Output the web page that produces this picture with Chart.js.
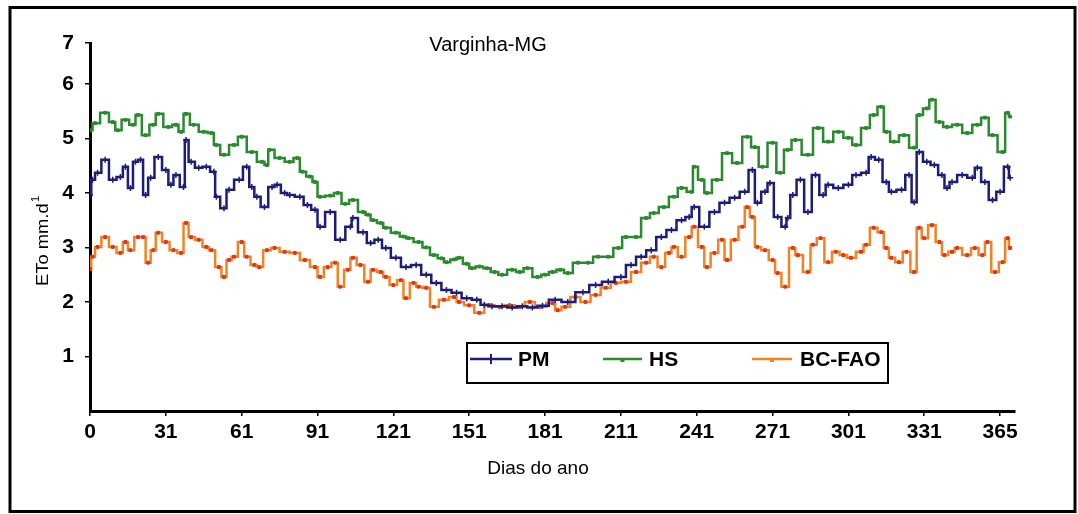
<!DOCTYPE html>
<html>
<head>
<meta charset="utf-8">
<script src="https://cdn.jsdelivr.net/npm/chart.js@4"></script>
<style>
  html, body { margin: 0; padding: 0; background: #fff; }
  canvas { display: block; }
</style>
</head>
<body>
<canvas id="etoChart" width="1078" height="514"></canvas>
<script>
const pmDays = [1, 2, 4, 7, 10, 13, 15, 17, 19, 21, 23, 25, 28, 31, 33, 35, 38, 39, 41, 44, 47, 50, 51, 54, 56, 60, 63, 65, 67, 70, 73, 75, 78, 80, 84, 87, 90, 92, 96, 100, 104, 105, 109, 112, 115, 118, 122, 126, 130, 134, 138, 142, 146, 150, 154, 157, 160, 164, 168, 172, 176, 180, 185, 190, 196, 201, 206, 211, 215, 219, 223, 227, 231, 235, 238, 240, 244, 248, 252, 256, 260, 263, 265, 268, 270, 273, 276, 277, 279, 282, 285, 288, 291, 293, 297, 301, 304, 308, 310, 313, 316, 318, 322, 325, 327, 329, 332, 335, 338, 340, 342, 346, 350, 352, 355, 358, 361, 364, 365];
const pmValues = [3.96, 4.24, 4.37, 4.61, 4.24, 4.29, 4.48, 4.09, 4.57, 4.61, 3.96, 4.28, 4.66, 4.42, 4.15, 4.33, 4.11, 4.97, 4.57, 4.46, 4.48, 4.39, 3.93, 3.72, 4.06, 4.24, 4.48, 4.11, 3.93, 3.74, 4.11, 4.15, 4.0, 3.96, 3.93, 3.78, 3.69, 3.38, 3.65, 3.14, 3.38, 3.54, 3.28, 3.08, 3.14, 2.99, 2.81, 2.64, 2.68, 2.5, 2.35, 2.22, 2.17, 2.07, 2.04, 1.95, 1.92, 1.92, 1.9, 1.92, 1.9, 1.93, 2.04, 2.0, 2.18, 2.31, 2.37, 2.46, 2.68, 2.83, 2.95, 3.19, 3.32, 3.5, 3.56, 3.74, 3.38, 3.65, 3.82, 3.91, 4.02, 4.42, 3.82, 4.02, 4.18, 3.56, 3.38, 3.54, 3.96, 4.24, 3.65, 4.33, 3.96, 4.15, 4.09, 4.15, 4.33, 4.37, 4.66, 4.61, 4.2, 4.02, 4.06, 4.33, 3.83, 4.75, 4.57, 4.51, 4.33, 4.09, 4.2, 4.33, 4.28, 4.46, 4.2, 3.87, 4.02, 4.48, 4.28];

const hsDays = [1, 3, 7, 10, 12, 15, 18, 20, 23, 26, 28, 32, 35, 37, 39, 42, 46, 49, 51, 54, 58, 61, 65, 69, 71, 72, 76, 80, 83, 85, 88, 90, 92, 96, 99, 102, 105, 109, 111, 113, 116, 118, 122, 125, 127, 131, 134, 137, 140, 142, 145, 147, 150, 152, 155, 158, 161, 164, 168, 171, 174, 178, 181, 184, 187, 190, 194, 198, 202, 206, 210, 213, 217, 221, 224, 228, 232, 235, 239, 240, 243, 245, 249, 253, 257, 261, 264, 267, 271, 274, 277, 280, 285, 289, 293, 297, 301, 304, 308, 311, 314, 316, 319, 323, 327, 329, 332, 334, 337, 340, 344, 348, 352, 355, 358, 362, 364, 365];
const hsValues = [5.15, 5.28, 5.47, 5.3, 5.15, 5.34, 5.25, 5.43, 5.06, 5.25, 5.45, 5.21, 5.25, 5.12, 5.45, 5.25, 5.12, 5.1, 4.88, 4.7, 4.88, 5.03, 4.75, 4.57, 4.51, 4.79, 4.64, 4.57, 4.64, 4.39, 4.3, 4.2, 3.93, 3.95, 4.0, 3.8, 3.87, 3.65, 3.6, 3.5, 3.45, 3.36, 3.27, 3.2, 3.17, 3.1, 3.0, 2.86, 2.8, 2.73, 2.78, 2.81, 2.7, 2.62, 2.65, 2.62, 2.55, 2.5, 2.59, 2.55, 2.62, 2.46, 2.5, 2.55, 2.59, 2.53, 2.72, 2.72, 2.83, 2.83, 2.99, 3.19, 3.19, 3.54, 3.63, 3.74, 3.93, 4.09, 4.02, 4.48, 4.24, 4.0, 4.24, 4.73, 4.55, 5.03, 4.84, 4.48, 4.92, 4.37, 4.79, 4.97, 4.7, 5.19, 4.94, 5.12, 5.01, 4.88, 5.19, 5.43, 5.58, 5.12, 4.94, 5.06, 4.83, 5.43, 5.55, 5.71, 5.3, 5.21, 5.25, 5.1, 5.25, 5.38, 5.06, 4.75, 5.47, 5.4];

const bcDays = [1, 2, 4, 7, 10, 13, 15, 17, 20, 22, 24, 26, 28, 31, 34, 37, 39, 41, 44, 47, 49, 52, 54, 56, 58, 61, 63, 66, 68, 71, 74, 78, 82, 86, 90, 92, 95, 98, 100, 103, 105, 108, 111, 113, 116, 118, 121, 124, 126, 129, 131, 134, 137, 141, 145, 147, 151, 155, 159, 163, 167, 171, 175, 179, 184, 186, 189, 193, 197, 201, 205, 209, 213, 217, 221, 224, 227, 230, 232, 235, 238, 240, 243, 245, 248, 251, 253, 256, 259, 261, 263, 265, 268, 271, 273, 276, 279, 281, 285, 287, 290, 293, 296, 299, 302, 306, 308, 311, 314, 316, 318, 321, 324, 327, 329, 331, 334, 337, 339, 342, 344, 348, 351, 354, 356, 359, 362, 364, 365];
const bcValues = [2.6, 2.83, 3.01, 3.19, 3.01, 2.9, 3.1, 2.95, 3.19, 3.19, 2.72, 2.95, 3.27, 3.1, 2.95, 2.9, 3.45, 3.19, 3.14, 3.01, 2.95, 2.64, 2.46, 2.77, 2.83, 3.1, 2.83, 2.68, 2.64, 2.95, 2.99, 2.92, 2.9, 2.77, 2.64, 2.46, 2.64, 2.72, 2.28, 2.59, 2.81, 2.68, 2.37, 2.59, 2.55, 2.46, 2.31, 2.4, 2.07, 2.35, 2.28, 2.26, 1.91, 2.04, 2.09, 2.0, 1.94, 1.8, 1.94, 1.91, 1.94, 1.91, 2.0, 1.91, 1.98, 1.85, 1.91, 2.09, 2.0, 2.13, 2.26, 2.35, 2.37, 2.55, 2.72, 2.83, 2.64, 2.9, 3.01, 2.83, 3.19, 3.38, 3.01, 2.64, 2.9, 3.14, 2.77, 3.14, 3.38, 3.74, 3.56, 3.01, 2.95, 2.77, 2.53, 2.28, 2.99, 2.86, 2.55, 3.05, 3.17, 2.73, 2.92, 2.86, 2.81, 2.92, 3.05, 3.36, 3.28, 2.99, 2.81, 2.73, 2.92, 2.55, 3.36, 3.17, 3.41, 3.1, 2.86, 2.92, 2.99, 2.86, 2.99, 2.86, 3.1, 2.55, 2.73, 3.17, 2.99];

// Axis ticks
const xTickDays = [1, 31, 61, 91, 121, 151, 181, 211, 241, 271, 301, 331, 361];
const xTickLabels = ['0', '31', '61', '91', '121', '151', '181', '211', '241', '271', '301', '331', '365'];
const yTickValues = [1, 2, 3, 4, 5, 6, 6.75];
const yTickLabels = ['1', '2', '3', '4', '5', '6', '7'];

const seriesNames = ['PM', 'HS', 'BC-FAO'];
const colors = { pm: '#1c1c7a', hs: '#2a8a2e', bc: '#f5821f', bcPoint: '#e0341c' };

function toPoints(days, values) {
    return days.map((d, i) => ({ x: d, y: values[i] }));
}

// Frame, titles and the boxed legend
const decorations = {
    id: 'decorations',
    afterDraw(chart) {
        const ctx = chart.ctx;
        ctx.save();

        // outer frame
        ctx.strokeStyle = '#000';
        ctx.lineWidth = 3;
        ctx.strokeRect(10, 7.5, 1065, 504);

        // chart title
        ctx.fillStyle = '#000';
        ctx.font = '20px "Liberation Sans", Arial, sans-serif';
        ctx.textAlign = 'center';
        ctx.textBaseline = 'alphabetic';
        ctx.fillText('Varginha-MG', 488, 51);

        // x title
        ctx.font = '19px "Liberation Sans", Arial, sans-serif';
        ctx.fillText('Dias do ano', 538, 474);

        // y title (rotated, with superscript)
        ctx.save();
        ctx.translate(48, 286);
        ctx.rotate(-Math.PI / 2);
        ctx.scale(1.08, 1);
        ctx.textAlign = 'left';
        ctx.font = '17px "Liberation Sans", Arial, sans-serif';
        ctx.fillText('ETo mm.d', 0, 0);
        const w = ctx.measureText('ETo mm.d').width;
        ctx.font = '11px "Liberation Sans", Arial, sans-serif';
        ctx.fillText('1', w + 1, -9);
        ctx.restore();

        // legend box
        ctx.lineWidth = 2;
        ctx.strokeRect(467, 343, 421, 40);
        const items = [
            { x1: 470, x2: 512, tx: 518, color: colors.pm, mark: colors.pm },
            { x1: 603, x2: 642, tx: 649, color: colors.hs, mark: colors.hs },
            { x1: 752, x2: 792, tx: 800, color: colors.bc, mark: colors.bc }
        ];
        ctx.font = 'bold 21px "Liberation Sans", Arial, sans-serif';
        ctx.textAlign = 'left';
        ctx.textBaseline = 'middle';
        items.forEach((it, i) => {
            const y = 359;
            ctx.strokeStyle = it.color;
            ctx.lineWidth = 2.5;
            ctx.beginPath();
            ctx.moveTo(it.x1, y);
            ctx.lineTo(it.x2, y);
            ctx.stroke();
            const mx = (it.x1 + it.x2) / 2;
            ctx.fillStyle = it.mark;
            if (i === 0) {
                ctx.lineWidth = 2;
                ctx.beginPath();
                ctx.moveTo(mx, y - 5);
                ctx.lineTo(mx, y + 5);
                ctx.stroke();
            } else {
                ctx.fillRect(mx - 2, y - 1, 4, 4);
            }
            ctx.fillStyle = '#000';
            ctx.fillText(seriesNames[i], it.tx, y + 1);
        });

        ctx.restore();
    }
};

const tickFont = { family: '"Liberation Sans", Arial, sans-serif', size: 21, weight: 'bold' };

new Chart(document.getElementById('etoChart'), {
    type: 'line',
    data: {
        datasets: [
            {
                label: seriesNames[0],
                data: toPoints(pmDays, pmValues),
                borderColor: colors.pm,
                backgroundColor: colors.pm,
                borderWidth: 2.5,
                stepped: 'middle',
                pointStyle: 'cross',
                pointRadius: 3,
                pointBorderWidth: 1.5
            },
            {
                label: seriesNames[1],
                data: toPoints(hsDays, hsValues),
                borderColor: colors.hs,
                backgroundColor: colors.hs,
                borderWidth: 2.5,
                stepped: 'middle',
                pointStyle: 'rect',
                pointRadius: 2,
                pointBorderWidth: 1
            },
            {
                label: seriesNames[2],
                data: toPoints(bcDays, bcValues),
                borderColor: colors.bc,
                backgroundColor: colors.bcPoint,
                pointBorderColor: colors.bcPoint,
                borderWidth: 2.5,
                stepped: 'middle',
                pointStyle: 'rect',
                pointRadius: 2,
                pointBorderWidth: 1
            }
        ]
    },
    options: {
        responsive: false,
        animation: false,
        devicePixelRatio: 1,
        layout: { padding: { left: 0, top: 43, right: 63, bottom: 0 } },
        plugins: {
            legend: { display: false },
            title: { display: false },
            tooltip: { enabled: false }
        },
        scales: {
            x: {
                type: 'linear',
                min: 1,
                max: 366.9,
                afterFit(scale) { scale.height = 103; },
                afterBuildTicks(scale) { scale.ticks = xTickDays.map(v => ({ value: v })); },
                ticks: {
                    autoSkip: false,
                    maxRotation: 0,
                    color: '#000',
                    font: tickFont,
                    padding: 4,
                    callback: (v, i) => xTickLabels[i]
                },
                grid: { drawOnChartArea: false, color: '#000', lineWidth: 1.5, tickLength: 5 },
                border: { color: '#000', width: 3 }
            },
            y: {
                min: 0,
                max: 6.75,
                afterFit(scale) { scale.width = 90; },
                afterBuildTicks(scale) { scale.ticks = yTickValues.map(v => ({ value: v })); },
                ticks: {
                    color: '#000',
                    font: tickFont,
                    padding: 11,
                    callback: (v, i) => yTickLabels[i]
                },
                grid: { drawOnChartArea: false, color: '#000', lineWidth: 1.5, tickLength: 5 },
                border: { color: '#000', width: 3 }
            }
        }
    },
    plugins: [decorations]
});
</script>
</body>
</html>
